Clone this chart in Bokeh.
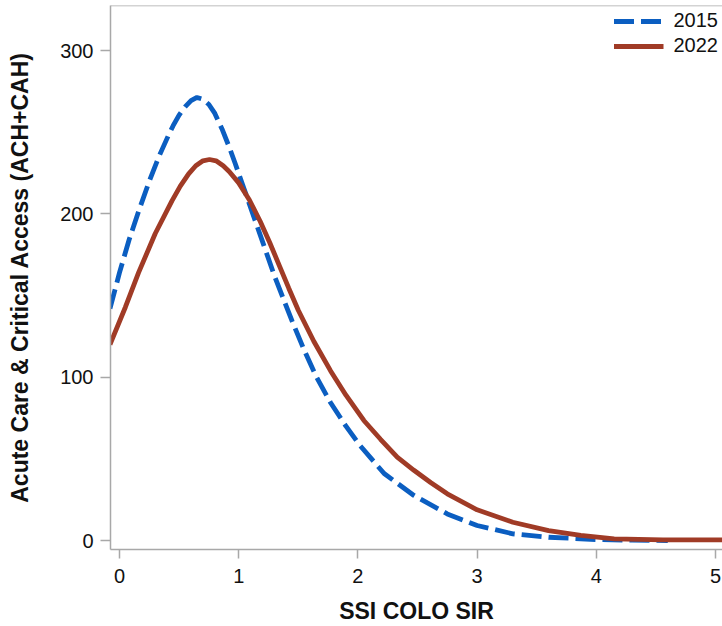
from bokeh.plotting import figure
from bokeh.models import Range1d, Span
from bokeh.embed import file_html
from bokeh.resources import INLINE

# Series
x_2015 = [-0.08, 0.0, 0.08, 0.16, 0.25, 0.33, 0.41, 0.45, 0.5, 0.55, 0.6, 0.65, 0.7, 0.75,
          0.8, 0.86, 0.92, 0.97, 1.03, 1.09, 1.2, 1.3, 1.45, 1.55, 1.65, 1.77, 1.9, 2.02,
          2.22, 2.47, 2.75, 3.0, 3.3, 3.6, 4.0, 4.3, 4.6]
y_2015 = [142, 164, 184, 201.5, 220, 235, 248, 254, 260.5, 265.5, 269.3, 271.3, 270.2, 267,
          261.5, 252, 241, 231, 218.5, 206, 183, 162, 134, 116.5, 100.5, 84.5, 70, 58,
          41, 27.6, 16.3, 9.2, 4.1, 2.0, 0.6, 0.2, 0.0]

x_2022 = [-0.08, 0.05, 0.16, 0.3, 0.44, 0.51, 0.58, 0.64, 0.7, 0.755, 0.81, 0.87, 0.92, 1.0,
          1.09, 1.18, 1.26, 1.34, 1.42, 1.5, 1.63, 1.77, 1.9, 2.05, 2.19, 2.33, 2.47, 2.61,
          2.75, 3.0, 3.3, 3.6, 3.87, 4.15, 4.56, 5.0, 5.1]
y_2022 = [120, 143, 164, 188, 208, 217, 224.5, 229.5, 232.5, 233.3, 232.5, 229.5, 226, 219,
          208.5, 195.5, 182.5, 168.5, 154.5, 141, 122, 104, 89, 73.5, 62, 51, 43, 35.5,
          28.6, 18.8, 11.2, 6.1, 3.1, 1.0, 0.4, 0.4, 0.4]

series_names = ["2015", "2022"]
x_ticks = [0, 1, 2, 3, 4, 5]
y_ticks = [0, 100, 200, 300]

X_START, X_END = -0.0755, 5.059
Y_START, Y_END = -5.5, 327.6

BLUE = "#0B5EC1"
RED = "#A03B26"
GRAY = "#A8A8A8"
FONT = "Liberation Sans"

p = figure(width=722, height=626, output_backend="svg", toolbar_location=None,
           x_range=Range1d(X_START, X_END), y_range=Range1d(Y_START, Y_END),
           min_border_left=110, min_border_right=0, min_border_top=5,
           min_border_bottom=77)

p.line(x_2015, y_2015, line_color=BLUE, line_width=4.8, line_dash="20 7",
       legend_label=series_names[0])
p.line(x_2022, y_2022, line_color=RED, line_width=4.8,
       legend_label=series_names[1])

p.xgrid.visible = False
p.ygrid.visible = False
p.outline_line_color = None
p.background_fill_color = "white"
p.border_fill_color = "white"

top_line = Span(location=Y_END, dimension="width", line_color=GRAY, line_width=1.5)
p.add_layout(top_line)

for ax in (p.xaxis[0], p.yaxis[0]):
    ax.axis_line_color = GRAY
    ax.axis_line_width = 1.5
    ax.major_tick_line_color = GRAY
    ax.major_tick_line_width = 1.5
    ax.minor_tick_line_color = None
    ax.major_tick_in = 0
    ax.major_label_text_font = FONT
    ax.major_label_text_font_size = "20px"
    ax.major_label_text_color = "#111111"
    ax.axis_label_text_font = FONT
    ax.axis_label_text_font_size = "23px"
    ax.axis_label_text_font_style = "bold"
    ax.axis_label_text_color = "#111111"

p.xaxis.ticker = x_ticks
p.yaxis.ticker = y_ticks
p.xaxis.major_tick_out = 9
p.yaxis.major_tick_out = 10
p.xaxis.major_label_standoff = 10
p.yaxis.major_label_standoff = 7
p.xaxis.axis_label = "SSI COLO SIR"
p.yaxis.axis_label = "Acute Care & Critical Access (ACH+CAH)"
p.xaxis.axis_label_standoff = 12
p.yaxis.axis_label_standoff = 24

lg = p.legend[0]
lg.location = "top_right"
lg.border_line_color = None
lg.background_fill_alpha = 0
lg.label_text_font = FONT
lg.label_text_font_size = "20px"
lg.label_text_color = "#111111"
lg.glyph_width = 50
lg.glyph_height = 20
lg.label_standoff = 10
lg.spacing = 2
lg.padding = 5
lg.margin = 4

open("out.html", "w").write(file_html(p, INLINE))
